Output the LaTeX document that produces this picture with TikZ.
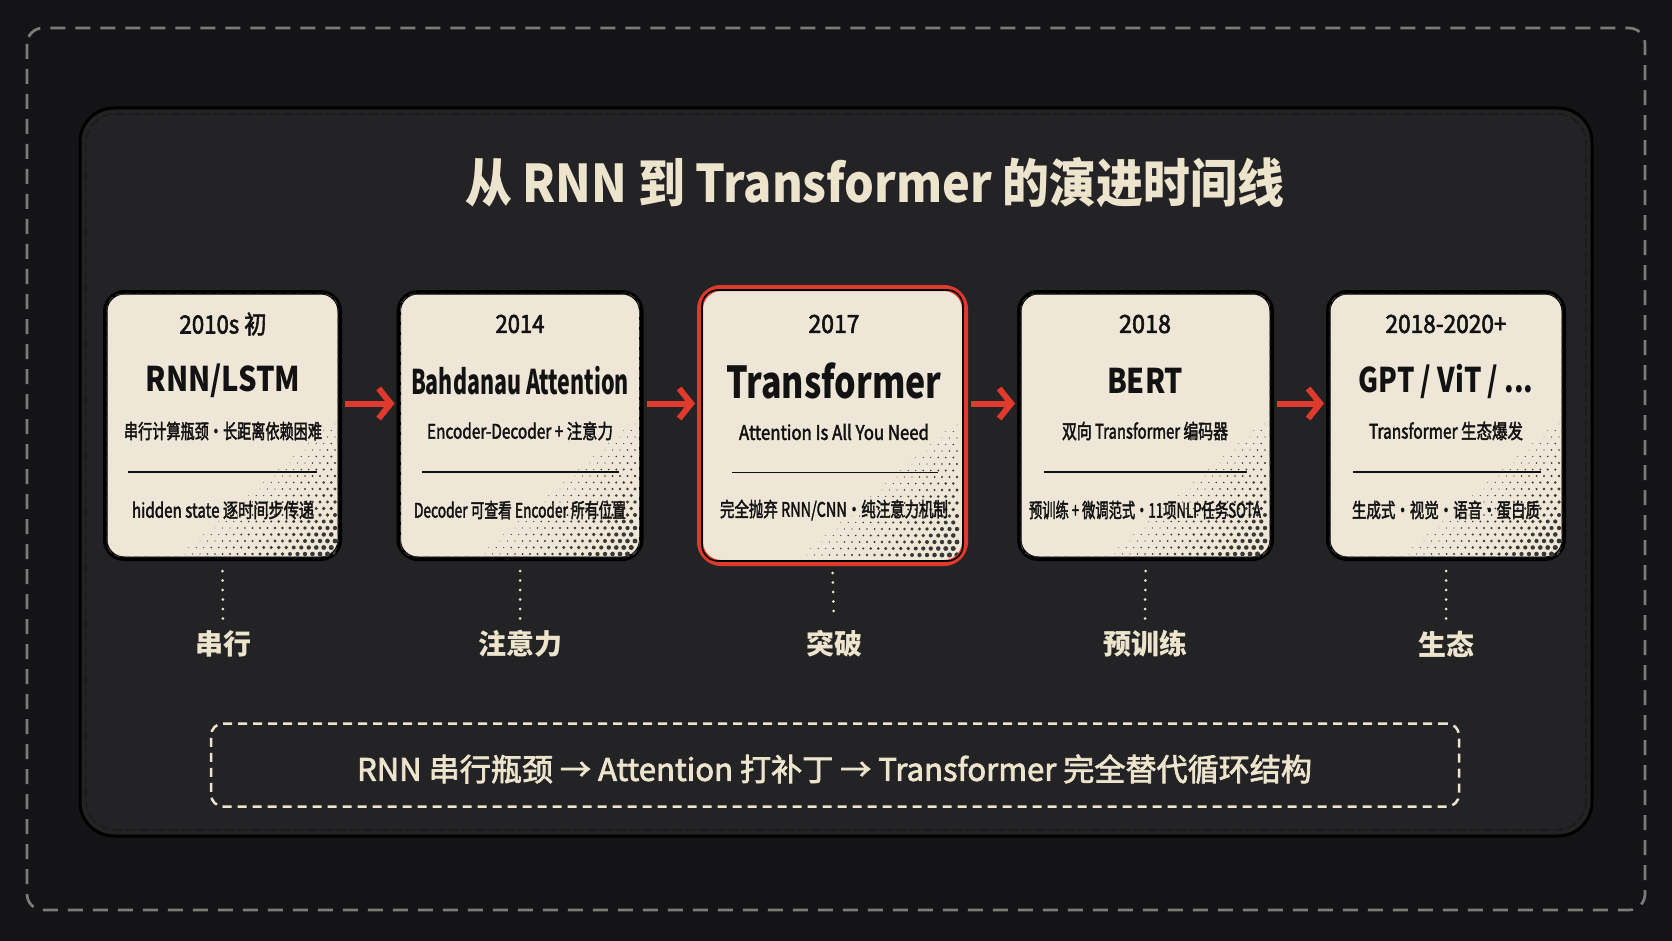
\documentclass[tikz,border=0pt]{standalone}
\usepackage{fontspec}
\setmainfont{Noto Sans CJK SC}
\newfontfamily\medf{Noto Sans CJK SC}[FakeBold=2.4]
\usepackage{graphicx}
\usetikzlibrary{arrows.meta,calc}
\definecolor{bgc}{HTML}{141416}
\definecolor{panelc}{HTML}{232325}
\definecolor{cardc}{HTML}{EEE7D7}
\definecolor{creamc}{HTML}{EDE4CE}
\definecolor{inkc}{HTML}{121212}
\definecolor{redc}{HTML}{E03A2C}
\definecolor{grayc}{HTML}{7D7B77}
\definecolor{dotc}{HTML}{3A3835}
\newcommand\fitx[2]{\resizebox{#1pt}{\height}{#2}}
\newcommand\halftone[4]{%
  \begin{scope}
    \clip[rounded corners=17pt] (#1,#2) rectangle (#3,#4);
    \foreach \i in {0,...,20}{%
      \foreach \j in {0,...,20}{%
        \pgfmathtruncatemacro\dd{\i+\j}%
        \ifnum\dd<21
          \pgfmathsetmacro\rr{0.35+2.3*(1-\dd/21)}%
          \fill[dotc] ({#3-5-\i*7.5-mod(\j,2)*3.75},{#4-5-\j*6.5}) circle[radius=\rr pt];
        \fi
      }}
  \end{scope}}
\begin{document}
\begin{tikzpicture}[x=1pt,y=-1pt,
  cardbox/.style={draw=black, line width=4.5pt, fill=cardc, rounded corners=19pt, inner sep=0pt},
  innerdash/.style={draw=black!75, line width=0.8pt, dash pattern=on 7pt off 3pt, rounded corners=15pt},
  yeartxt/.style={text=inkc, inner sep=0pt, font=\medf\fontsize{25}{28}\selectfont},
  ttltxt/.style={text=inkc, inner sep=0pt, font=\bfseries\fontsize{34}{38}\selectfont},
  subtxt/.style={text=inkc, inner sep=0pt, font=\medf\fontsize{20}{23}\selectfont},
  septxt/.style={draw=inkc, line width=1.4pt},
  redarrow/.style={draw=redc, line width=6pt, -{Straight Barb[length=12pt,width=30pt]}},
  dotln/.style={draw=creamc, line width=3pt, line cap=round, dash pattern=on 0pt off 9.5pt},
  lbltxt/.style={text=creamc, inner sep=0pt, font=\bfseries\fontsize{28}{30}\selectfont},
]
\useasboundingbox (0,0) rectangle (1672,941);
\fill[bgc] (0,0) rectangle (1672,941);
% outer dashed frame
\draw[grayc, line width=2.7pt, dash pattern=on 15pt off 10pt, rounded corners=16pt] (27,28) rectangle (1645,910);
% inner panel
\draw[black, line width=3pt, fill=panelc, rounded corners=34pt] (80,108) rectangle (1592,836);
\draw[black!90, line width=1.4pt, dash pattern=on 10pt off 4pt, rounded corners=29pt] (86,114) rectangle (1586,830);
% title
\node[text=creamc, inner sep=0pt, font=\bfseries\fontsize{52}{56}\selectfont] (title) at (874.5,183)
  {\fitx{819}{从 RNN 到 Transformer 的演进时间线}};

% cards
\node[cardbox, minimum width=234.5pt, minimum height=266.5pt] (c1) at (222.5,425.5) {};
\node[cardbox, minimum width=242.5pt, minimum height=266.5pt] (c2) at (520,425.5) {};
\node[cardbox, draw=redc, line width=6pt, rounded corners=21pt, minimum width=265pt, minimum height=275pt] (c3) at (832.5,425.5) {};
\node[cardbox, minimum width=252.5pt, minimum height=266.5pt] (c4) at (1145.5,425.5) {};
\node[cardbox, minimum width=235.5pt, minimum height=266.5pt] (c5) at (1446,425.5) {};

\halftone{105}{294}{340}{559}
\halftone{401}{294}{640}{559}
\halftone{703}{291}{962}{560}
\halftone{1021}{294}{1270}{559}
\halftone{1330}{294}{1564}{559}

\draw[innerdash] ($(c1.south west)+(4,-4)$) rectangle ($(c1.north east)+(-4,4)$);
\draw[innerdash] ($(c2.south west)+(4,-4)$) rectangle ($(c2.north east)+(-4,4)$);
\draw[black, line width=1.6pt, rounded corners=16pt] ($(c3.south west)+(5,-5)$) rectangle ($(c3.north east)+(-5,5)$);
\draw[innerdash] ($(c4.south west)+(4,-4)$) rectangle ($(c4.north east)+(-4,4)$);
\draw[innerdash] ($(c5.south west)+(4,-4)$) rectangle ($(c5.north east)+(-4,4)$);

% card 1
\node[yeartxt] (y1) at (223,324) {\fitx{87}{2010s 初}};
\node[ttltxt] (t1) at (223,381) {\fitx{155}{RNN/LSTM}};
\node[subtxt] (s1) at (223,431) {\fitx{198}{串行计算瓶颈·长距离依赖困难}};
\draw[septxt] ($(c1.west)+(25,46.5)$) -- ($(c1.east)+(-25,46.5)$);
\node[subtxt] (b1) at (223,510) {\fitx{182}{hidden state 逐时间步传递}};
% card 2
\node[yeartxt] (y2) at (520,324) {\fitx{49}{2014}};
\node[ttltxt] (t2) at (520,381) {\fitx{218}{Bahdanau Attention}};
\node[subtxt] (s2) at (520,431) {\fitx{186}{Encoder-Decoder + 注意力}};
\draw[septxt] ($(c2.west)+(25,46.5)$) -- ($(c2.east)+(-25,46.5)$);
\node[subtxt] (b2) at (520,510) {\fitx{212}{Decoder 可查看 Encoder 所有位置}};
% card 3
\node[yeartxt] (y3) at (834,324) {\fitx{51}{2017}};
\node[ttltxt, font=\bfseries\fontsize{44}{48}\selectfont] (t3) at (834,381) {\fitx{215}{Transformer}};
\node[subtxt] (s3) at (834,432) {\fitx{190}{Attention Is All You Need}};
\draw[septxt] ($(c3.west)+(35,47)$) -- ($(c3.east)+(-30,47)$);
\node[subtxt] (b3) at (834,510) {\fitx{228}{完全抛弃 RNN/CNN·纯注意力机制}};
% card 4
\node[yeartxt] (y4) at (1145,324) {\fitx{52}{2018}};
\node[ttltxt] (t4) at (1145,381) {\fitx{76}{BERT}};
\node[subtxt] (s4) at (1145,431) {\fitx{166}{双向 Transformer 编码器}};
\draw[septxt] ($(c4.west)+(27,46.5)$) -- ($(c4.east)+(-27,46.5)$);
\node[subtxt] (b4) at (1145,510) {\fitx{232}{预训练 + 微调范式·11项NLP任务SOTA}};
% card 5
\node[yeartxt] (y5) at (1446,324) {\fitx{121}{2018-2020+}};
\node[ttltxt] (t5) at (1446,381) {\fitx{175}{GPT / ViT / ...}};
\node[subtxt] (s5) at (1446,431) {\fitx{154}{Transformer 生态爆发}};
\draw[septxt] ($(c5.west)+(27,46.5)$) -- ($(c5.east)+(-25,46.5)$);
\node[subtxt] (b5) at (1446,510) {\fitx{188}{生成式·视觉·语音·蛋白质}};

% arrows
\draw[redarrow] ([xshift=3pt,yshift=22pt]c1.east) -- ([xshift=-2pt,yshift=22pt]c2.west);
\draw[redarrow] ([xshift=3pt,yshift=22pt]c2.east) -- ([xshift=-2pt,yshift=22pt]c3.west);
\draw[redarrow] ([xshift=3pt,yshift=22pt]c3.east) -- ([xshift=-2pt,yshift=22pt]c4.west);
\draw[redarrow] ([xshift=3pt,yshift=22pt]c4.east) -- ([xshift=-2pt,yshift=22pt]c5.west);

% labels
\node[lbltxt] (l1) at (223,644) {串行};
\node[lbltxt] (l2) at (520,644) {注意力};
\node[lbltxt] (l3) at (834,644) {突破};
\node[lbltxt] (l4) at (1145,644) {预训练};
\node[lbltxt] (l5) at (1446,644) {生态};
\draw[dotln] ([yshift=-10pt]c1.south) -- ([yshift=10pt]l1.north);
\draw[dotln] ([yshift=-10pt]c2.south) -- ([yshift=10pt]l2.north);
\draw[dotln] ([yshift=-7pt]c3.south) -- ([yshift=10pt]l3.north);
\draw[dotln] ([yshift=-10pt]c4.south) -- ([yshift=10pt]l4.north);
\draw[dotln] ([yshift=-10pt]c5.south) -- ([yshift=10pt]l5.north);

% summary box
\node[draw=creamc, line width=2.5pt, dash pattern=on 9pt off 6pt, rounded corners=12pt,
  minimum width=1248pt, minimum height=83pt, inner sep=0pt] (sum) at (835,765) {};
\node[text=creamc, inner sep=0pt, font=\medf\fontsize{31}{34}\selectfont] (sumtxt) at (834.5,769)
  {\fitx{955}{RNN 串行瓶颈 → Attention 打补丁 → Transformer 完全替代循环结构}};
\end{tikzpicture}
\end{document}
